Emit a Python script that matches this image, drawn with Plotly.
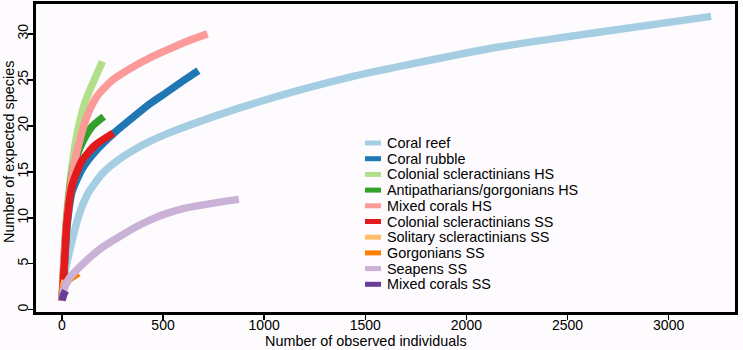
import plotly.graph_objects as go

# ---------------- data ----------------
series_names = [
    "Coral reef", "Coral rubble", "Colonial scleractinians HS",
    "Antipatharians/gorgonians HS", "Mixed corals HS", "Colonial scleractinians SS",
    "Solitary scleractinians SS", "Gorgonians SS", "Seapens SS", "Mixed corals SS",
]
series_colors = ["#A6CEE3", "#1F78B4", "#B2DF8A", "#33A02C", "#FB9A99",
                 "#E31A1C", "#FDBF6F", "#FF7F00", "#CAB2D6", "#6A3D9A"]

coral_reef_x = [1, 20, 50, 83, 130, 200, 267, 366, 435, 515, 750, 930, 1178, 1425, 1700, 2167, 2662, 3210]
coral_reef_y = [1, 4.5, 7.5, 10.2, 12.7, 14.8, 16.1, 17.5, 18.3, 19.1, 21.0, 22.3, 23.9, 25.3, 26.6, 28.6, 30.2, 31.9]

coral_rubble_x = [1, 13, 25, 50, 100, 165, 257, 350, 435, 515, 600, 675]
coral_rubble_y = [1, 5.0, 9.0, 12.8, 15.3, 17.2, 19.2, 20.9, 22.4, 23.6, 24.9, 26.0]

col_hs_x = [1, 10, 25, 41, 74, 115, 160, 201]
col_hs_y = [1, 5.5, 10.5, 14.0, 19.0, 22.6, 25.0, 27.0]

antip_hs_x = [1, 10, 25, 50, 66, 99, 148, 207]
antip_hs_y = [1, 5.0, 10.0, 14.8, 16.2, 18.1, 19.9, 21.0]

mixed_hs_x = [1, 10, 25, 55, 95, 135, 180, 251, 366, 435, 515, 620, 720]
mixed_hs_y = [1, 5.3, 10.0, 15.2, 19.0, 21.6, 23.4, 25.0, 26.6, 27.4, 28.2, 29.2, 30.0]

col_ss_x = [1, 13, 25, 50, 99, 165, 254]
col_ss_y = [1, 5.3, 9.5, 13.5, 16.2, 17.9, 19.2]

sol_ss_x = [1, 5, 10, 16]
sol_ss_y = [1, 2.0, 2.7, 3.2]

gorg_ss_x = [1, 8, 25, 41, 66, 81]
gorg_ss_y = [1, 2.3, 3.0, 3.4, 3.75, 4.0]

seapens_x = [1, 10, 36, 119, 201, 366, 435, 515, 600, 765, 875]
seapens_y = [1, 2.2, 3.4, 5.3, 6.8, 9.0, 9.75, 10.45, 11.0, 11.65, 12.0]

mixed_ss_x = [1, 8, 18]
mixed_ss_y = [1, 1.6, 2.05]

series_x = [coral_reef_x, coral_rubble_x, col_hs_x, antip_hs_x, mixed_hs_x,
            col_ss_x, sol_ss_x, gorg_ss_x, seapens_x, mixed_ss_x]
series_y = [coral_reef_y, coral_rubble_y, col_hs_y, antip_hs_y, mixed_hs_y,
            col_ss_y, sol_ss_y, gorg_ss_y, seapens_y, mixed_ss_y]

x_ticks = [0, 500, 1000, 1500, 2000, 2500, 3000]
y_ticks = [0, 5, 10, 15, 20, 25, 30]
x_title = "Number of observed individuals"
y_title = "Number of expected species"

# ---------------- figure ----------------
W, H = 743, 350
ML, MR, MT, MB = 36, 8, 4, 38
FONT = "Liberation Sans, Arial, Helvetica, sans-serif"
BG = "#fdfbfd"

fig = go.Figure()
for name, color, xs, ys in zip(series_names, series_colors, series_x, series_y):
    fig.add_trace(go.Scatter(
        x=xs, y=ys, mode="lines", name=name, showlegend=False,
        line=dict(color=color, width=7.5, shape="spline", smoothing=0.6),
        hoverinfo="skip",
    ))

pw = W - ML - MR
ph = H - MT - MB
def px_to_paper_x(px):
    return (px - ML) / pw
def py_to_paper_y(py):
    return (H - MB - py) / ph

# manual legend (R-style compact spacing)
leg_top = 143
leg_step = 15.7
for i, (name, color) in enumerate(zip(series_names, series_colors)):
    cy = leg_top + i * leg_step
    fig.add_shape(type="line", xref="paper", yref="paper",
                  x0=px_to_paper_x(365), x1=px_to_paper_x(381),
                  y0=py_to_paper_y(cy), y1=py_to_paper_y(cy),
                  line=dict(color=color, width=5))
    fig.add_annotation(xref="paper", yref="paper",
                       x=px_to_paper_x(385), y=py_to_paper_y(cy),
                       xanchor="left", yanchor="middle", showarrow=False,
                       text=name, font=dict(family=FONT, size=14.4, color="black"))

# axis titles placed as in the reference
fig.add_annotation(xref="paper", yref="paper", x=px_to_paper_x(366), y=py_to_paper_y(341),
                   xanchor="center", yanchor="middle", showarrow=False, text=x_title,
                   font=dict(family=FONT, size=14.4, color="black"))
fig.add_annotation(xref="paper", yref="paper", x=px_to_paper_x(9), y=py_to_paper_y(152),
                   xanchor="center", yanchor="middle", showarrow=False, text=y_title,
                   textangle=-90, font=dict(family=FONT, size=14.4, color="black"))

fig.update_layout(
    width=W, height=H,
    margin=dict(l=ML, r=MR, t=MT, b=MB),
    paper_bgcolor=BG, plot_bgcolor=BG,
    font=dict(family=FONT, size=14, color="black"),
    showlegend=False,
)
fig.update_xaxes(
    range=[-128, 3328], tickvals=x_ticks, ticktext=[str(v) for v in x_ticks],
    showline=True, mirror=True, linecolor="black", linewidth=3,
    ticks="outside", ticklen=5, tickwidth=1.5, tickcolor="black",
    showgrid=False, zeroline=False, automargin=False, ticklabelstandoff=-7,
    tickfont=dict(family=FONT, size=14),
)
fig.update_yaxes(
    range=[-0.25, 33.25], tickvals=y_ticks, ticktext=[str(v) for v in y_ticks],
    showline=True, mirror=True, linecolor="black", linewidth=3,
    ticks="outside", ticklen=5, tickwidth=1.5, tickcolor="black",
    showgrid=False, zeroline=False, automargin=False, tickangle=-90,
    ticklabelstandoff=-6,
    tickfont=dict(family=FONT, size=14),
)

fig.write_html("out.html",
               config={"displayModeBar": False, "staticPlot": True},
               post_script="document.body.style.margin='0';document.body.style.padding='0';"
                           "document.body.style.background='" + BG + "';")
